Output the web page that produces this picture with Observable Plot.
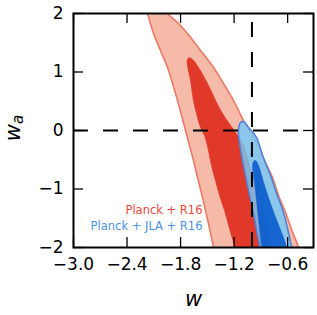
<!DOCTYPE html>
<html><head><meta charset="utf-8">
<script src="https://cdn.jsdelivr.net/npm/d3@7"></script>
<script src="https://cdn.jsdelivr.net/npm/@observablehq/plot@0.6"></script>
<style>html,body{margin:0;padding:0;background:#fff;}</style>
</head><body><div id="chart"></div>
<script>
const xTicks = [-3.0, -2.4, -1.8, -1.2, -0.6];
const yTicks = [-2, -1, 0, 1, 2];
const xDomain = [-3.0, -0.31];
const yDomain = [-2, 2];
const refW = [-1];
const refWa = [0];
const legendLabels = ["Planck + R16", "Planck + JLA + R16"];
const legendColors = ["#e8493b", "#4b93e6"];

// Planck + R16, 95% region (w, wa)
const redOuter = [
 [-2.22,2.3],[-2.170,2.0],[-2.103,1.658],[-2.025,1.368],[-1.946,1.077],[-1.890,0.803],[-1.834,0.513],[-1.789,0.256],[-1.744,0.0],[-1.700,-0.256],[-1.655,-0.513],[-1.610,-0.803],[-1.565,-1.077],[-1.520,-1.368],[-1.475,-1.675],[-1.430,-2.0],[-1.41,-2.2],
 [-0.45,-2.2],[-0.478,-2.0],[-0.556,-1.692],[-0.623,-1.402],[-0.702,-1.111],[-0.769,-0.803],[-0.859,-0.513],[-0.937,-0.222],[-1.016,-0.034],[-1.083,0.137],[-1.150,0.342],[-1.206,0.513],[-1.318,0.803],[-1.430,1.077],[-1.576,1.368],[-1.722,1.658],[-1.823,1.829],[-1.946,2.0],[-2.08,2.3]
];
// Planck + R16, 68% region
const redInner = [
 [-1.19,-2.2],[-1.195,-2.0],[-1.251,-1.675],[-1.307,-1.368],[-1.363,-1.111],[-1.408,-0.855],[-1.453,-0.598],[-1.487,-0.342],[-1.531,-0.085],[-1.576,0.051],[-1.621,0.291],[-1.655,0.513],[-1.688,0.855],[-1.722,1.111],[-1.725,1.20],[-1.705,1.245],[-1.666,1.214],[-1.599,1.077],[-1.498,0.803],[-1.408,0.513],[-1.330,0.291],[-1.240,0.085],[-1.161,-0.085],[-1.094,-0.256],[-1.027,-0.598],[-0.960,-0.889],[-0.892,-1.282],[-0.836,-1.624],[-0.791,-2.0],[-0.77,-2.2]
];
// Planck + JLA + R16, 95% region
const blueOuter = [
 [-0.92,-2.2],[-0.915,-2.0],[-0.948,-1.709],[-0.982,-1.419],[-1.027,-1.111],[-1.072,-0.769],[-1.117,-0.427],[-1.150,-0.085],[-1.150,0.034],[-1.128,0.137],[-1.094,0.154],[-1.038,0.051],[-0.948,-0.120],[-0.881,-0.427],[-0.791,-0.769],[-0.724,-1.077],[-0.646,-1.402],[-0.601,-1.675],[-0.556,-2.0],[-0.54,-2.2]
];
// Planck + JLA + R16, 68% region
const blueInner = [
 [-0.89,-2.2],[-0.892,-2.0],[-0.915,-1.675],[-0.937,-1.368],[-0.960,-1.026],[-0.982,-0.769],[-0.993,-0.615],[-0.982,-0.530],[-0.960,-0.513],[-0.926,-0.598],[-0.892,-0.769],[-0.859,-0.940],[-0.803,-1.197],[-0.735,-1.487],[-0.668,-1.744],[-0.612,-2.0],[-0.6,-2.2]
];

const rows = pts => pts.map(([w, wa]) => ({w, wa}));
const fmtX = d => d.toFixed(1).replace("-", "\u2212");
const fmtY = d => String(d).replace("-", "\u2212");

const chart = Plot.plot({
  width: 317, height: 315,
  marginLeft: 73, marginRight: 4, marginTop: 13, marginBottom: 68,
  style: {fontFamily: "DejaVu Sans", fontSize: "17px", background: "white", color: "black"},
  x: {domain: xDomain},
  y: {domain: yDomain},
  marks: [
    Plot.line(rows(redOuter), {x: "w", y: "wa", fill: "#f6baa8", stroke: "#ea7a66", strokeWidth: 1.6, curve: "catmull-rom", clip: true}),
    Plot.line(rows(redInner), {x: "w", y: "wa", fill: "#e0392a", stroke: "#e0392a", strokeWidth: 0.8, curve: "catmull-rom", clip: true}),
    Plot.line(rows(blueOuter), {x: "w", y: "wa", fill: "#71cbfb", fillOpacity: 0.8, stroke: "#4f7fd6", strokeWidth: 1.5, curve: "catmull-rom", clip: true}),
    Plot.line(rows(blueInner), {x: "w", y: "wa", fill: "#0055cd", fillOpacity: 0.85, stroke: "#1a5fc8", strokeWidth: 0.8, strokeOpacity: 0.8, curve: "catmull-rom", clip: true}),
    Plot.ruleX(refW, {x: d => d, y1: yDomain[0], y2: yDomain[1], stroke: "black", strokeWidth: 2, strokeDasharray: "15 15"}),
    Plot.ruleY(refWa, {y: d => d, x1: xDomain[0], x2: xDomain[1], stroke: "black", strokeWidth: 2, strokeDasharray: "15 15"}),
    Plot.tickX(xTicks, {x: d => d, insetTop: 224, stroke: "black", strokeWidth: 1.3}),
    Plot.tickX(xTicks, {x: d => d, insetBottom: 224, stroke: "black", strokeWidth: 1.3}),
    Plot.tickY(yTicks, {y: d => d, insetRight: 230, stroke: "black", strokeWidth: 1.3}),
    Plot.tickY(yTicks, {y: d => d, insetLeft: 230, stroke: "black", strokeWidth: 1.3}),
    Plot.axisX({ticks: xTicks, tickSize: 0, tickPadding: 10, tickFormat: fmtX, label: null}),
    Plot.axisY({ticks: yTicks, tickSize: 0, tickPadding: 10, tickFormat: fmtY, label: null}),
    Plot.text([legendLabels[0]], {text: d => d, frameAnchor: "bottom-left", dx: 129, dy: -33.7, fill: legendColors[0], textAnchor: "end", fontSize: 11.5}),
    Plot.text([legendLabels[1]], {text: d => d, frameAnchor: "bottom-left", dx: 129, dy: -17.7, fill: legendColors[1], textAnchor: "end", fontSize: 11.5}),
    Plot.text(["w"], {text: d => d, frameAnchor: "bottom", dy: 58, fontSize: 21, fontStyle: "italic"}),
    Plot.frame({stroke: "black", strokeWidth: 2})
  ]
});
document.getElementById("chart").appendChild(chart);

// y-axis label w_a (italic, subscript a)
const svg = d3.select(chart);
const lab = svg.append("text")
  .attr("transform", "translate(20,128) rotate(-90)")
  .attr("text-anchor", "middle")
  .attr("font-family", "DejaVu Sans")
  .attr("font-style", "italic")
  .attr("font-size", 21)
  .attr("fill", "black");
lab.append("tspan").text("w");
lab.append("tspan").attr("font-size", 15).attr("dy", 3).text("a");
</script>
</body></html>
